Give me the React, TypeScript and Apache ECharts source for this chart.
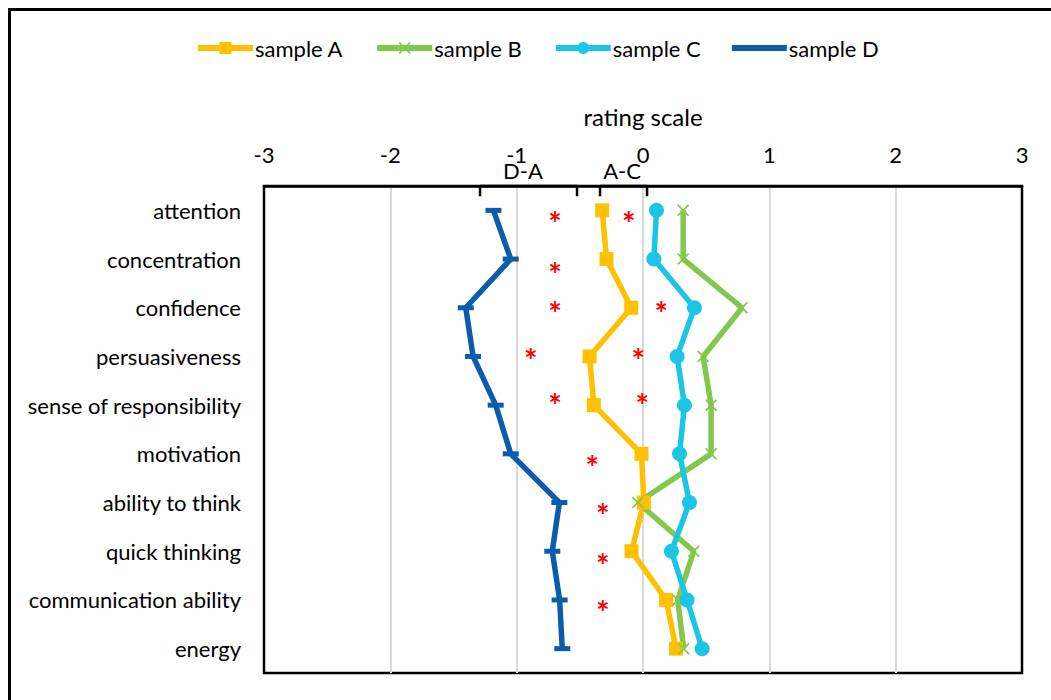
import React, { useEffect, useRef } from "react";
import * as echarts from "echarts";

const categories = [
  "attention",
  "concentration",
  "confidence",
  "persuasiveness",
  "sense of responsibility",
  "motivation",
  "ability to think",
  "quick thinking",
  "communication ability",
  "energy",
];

const sampleA = [-0.323, -0.289, -0.093, -0.423, -0.389, -0.012, 0.007, -0.091, 0.183, 0.262];
const sampleB = [0.318, 0.318, 0.784, 0.476, 0.539, 0.539, -0.041, 0.402, 0.275, 0.322];
const sampleC = [0.107, 0.086, 0.407, 0.27, 0.328, 0.289, 0.368, 0.225, 0.349, 0.468];
const sampleD = [-1.184, -1.047, -1.403, -1.345, -1.166, -1.047, -0.662, -0.718, -0.66, -0.639];

// significance stars: [x value, category position]
const starsDA = [
  [-0.697, 0.15],
  [-0.697, 1.185],
  [-0.697, 2.0],
  [-0.889, 2.97],
  [-0.697, 3.89],
  [-0.402, 5.15],
  [-0.318, 6.15],
  [-0.318, 7.16],
  [-0.318, 8.14],
];
const starsAC = [
  [-0.112, 0.15],
  [0.144, 2.0],
  [-0.038, 2.97],
  [-0.006, 3.89],
];

// comparison brackets [from, to]
const bracketDA = [-1.29, -0.522];
const bracketAC = [-0.34, 0.032];
const bracketLabels = ["D-A", "A-C"];
const bracketLabelX = [-0.95, -0.166];

const xTicks = [-3, 3, 1];

const FONT = "Lato";

const crossPath =
  "path://M0,1L1,0L5,4L9,0L10,1L6,5L10,9L9,10L5,6L1,10L0,9L4,5Z";
const dashPath = "path://M0,0H10V3H0Z";

function bracketData(b: number[]) {
  return [
    [b[0], -0.29],
    [b[0], -0.5],
    [b[1], -0.5],
    [b[1], -0.29],
  ];
}

export default function App() {
  const ref = useRef<HTMLDivElement>(null);

  useEffect(() => {
    if (!ref.current) return;
    const chart = echarts.init(ref.current, undefined, { renderer: "svg" });

    const lineSeries = (name: string, data: number[], color: string, symbol: string, size: any) => ({
      name,
      type: "line",
      data,
      xAxisIndex: 0,
      yAxisIndex: 0,
      symbol,
      symbolSize: size,
      showAllSymbol: true,
      lineStyle: { color, width: 5.5 },
      itemStyle: { color, borderWidth: 0 },
    });

    const starLabel = {
      show: true,
      position: "inside",
      formatter: "*",
      fontFamily: FONT,
      fontSize: 32,
      lineHeight: 32,
      fontWeight: "bold",
      color: "#FF0000",
      offset: [0, 6],
    };

    chart.setOption({
      animation: false,
      textStyle: { fontFamily: FONT },
      graphic: [
        {
          type: "rect",
          left: 7,
          top: 7,
          shape: { width: 1100, height: 800 },
          style: { fill: "none", stroke: "#000", lineWidth: 3 },
          silent: true,
        },
      ],
      legend: {
        left: 190,
        top: 32,
        itemWidth: 55,
        itemHeight: 15,
        itemGap: 31,
        lineStyle: { width: 6 },
        data: [
          "sample A",
          "sample B",
          "sample C",
          { name: "sample D", icon: "path://M0,0H55V6H0Z" },
        ],
        textStyle: { fontFamily: FONT, fontSize: 22, color: "#000", padding: [0, 0, 0, -3] },
      },
      grid: {
        left: 264,
        right: 29,
        top: 186,
        bottom: 27,
        show: true,
        borderColor: "#000",
        borderWidth: 2.5,
        backgroundColor: "transparent",
      },
      xAxis: {
        type: "value",
        position: "top",
        min: xTicks[0],
        max: xTicks[1],
        interval: xTicks[2],
        name: "rating scale",
        nameLocation: "middle",
        nameGap: 58,
        nameTextStyle: { fontFamily: FONT, fontSize: 24, color: "#000" },
        axisLine: { show: true, onZero: false, lineStyle: { color: "#000", width: 2.5 } },
        axisTick: { show: false },
        axisLabel: { fontFamily: FONT, fontSize: 22, color: "#000", margin: 21 },
        splitLine: {
          show: true,
          showMinLine: false,
          showMaxLine: false,
          lineStyle: { color: "#D9D9D9", width: 2 },
        },
      },
      yAxis: [
        {
          type: "category",
          data: categories,
          inverse: true,
          axisLine: { show: false },
          axisTick: { show: false },
          axisLabel: { fontFamily: FONT, fontSize: 22, color: "#000", margin: 23 },
          splitLine: { show: false },
        },
        {
          type: "value",
          min: -0.5,
          max: 9.5,
          inverse: true,
          show: false,
        },
      ],
      series: [
        lineSeries("sample A", sampleA, "#FFC000", "rect", 14),
        lineSeries("sample B", sampleB, "#82C84C", crossPath, 12),
        lineSeries("sample C", sampleC, "#1BC6E4", "circle", 15),
        lineSeries("sample D", sampleD, "#0B5CAD", dashPath, [16, 5]),
        {
          name: "stars D-A",
          type: "scatter",
          xAxisIndex: 0,
          yAxisIndex: 1,
          data: starsDA,
          symbolSize: 0,
          itemStyle: { color: "#FF0000", opacity: 1 },
          clip: false,
          label: starLabel,
        },
        {
          name: "stars A-C",
          type: "scatter",
          xAxisIndex: 0,
          yAxisIndex: 1,
          data: starsAC,
          symbolSize: 0,
          itemStyle: { color: "#FF0000", opacity: 1 },
          clip: false,
          label: starLabel,
        },
        {
          name: "bracket D-A",
          type: "line",
          xAxisIndex: 0,
          yAxisIndex: 1,
          data: bracketData(bracketDA),
          symbol: "none",
          clip: false,
          lineStyle: { color: "#000", width: 2.5 },
        },
        {
          name: "bracket A-C",
          type: "line",
          xAxisIndex: 0,
          yAxisIndex: 1,
          data: bracketData(bracketAC),
          symbol: "none",
          clip: false,
          lineStyle: { color: "#000", width: 2.5 },
        },
        {
          name: "bracket labels",
          type: "scatter",
          xAxisIndex: 0,
          yAxisIndex: 1,
          data: bracketLabelX.map((x, i) => ({ value: [x, -0.5], name: bracketLabels[i] })),
          symbolSize: 0,
          itemStyle: { color: "#000", opacity: 1 },
          clip: false,
          label: {
            show: true,
            position: "top",
            distance: 5,
            formatter: (p: any) => p.name,
            fontFamily: FONT,
            fontSize: 22,
            color: "#000",
            textBorderWidth: 0,
          },
        },
      ],
    });

    return () => chart.dispose();
  }, []);

  return (
    <div
      ref={ref}
      style={{ position: "absolute", left: 0, top: 0, width: 1051, height: 700, background: "#fff" }}
    />
  );
}
